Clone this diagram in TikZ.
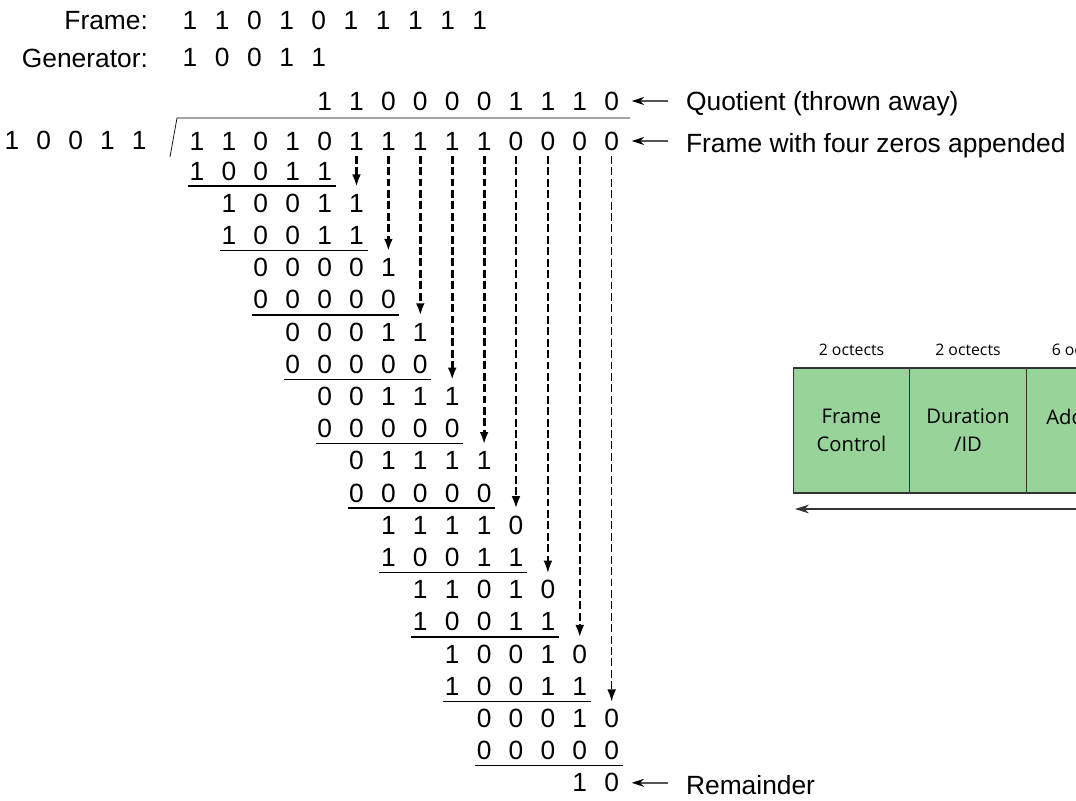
\documentclass[tikz,border=0pt]{standalone}
\usepackage{fontspec}
\setmainfont{Liberation Sans}
\newfontfamily\boxfont{Open Sans}
\usetikzlibrary{arrows.meta}
\usetikzlibrary{positioning}
\usetikzlibrary{calc}

\definecolor{fieldgreen}{HTML}{98D49A}
\definecolor{fieldline}{HTML}{333333}
\definecolor{pointergray}{HTML}{555555}

\tikzset{
  bit/.style={font=\fontsize{15}{18}\selectfont, inner sep=1pt},
  lbl/.style={font=\fontsize{15}{18}\selectfont, anchor=west, inner sep=1pt},
  bringdown/.style={-{Latex[length=7pt,width=5pt]}, dash pattern=on 4.5pt off 2pt,
    shorten <=2pt, shorten >=3pt},
  pointer/.style={-{Stealth[black,length=7pt,width=4.5pt]}, pointergray, line width=1pt,
    shorten <=9pt, shorten >=6pt},
  field/.style={draw=fieldline, fill=fieldgreen, line width=.7pt, minimum width=2.33cm,
    minimum height=2.5cm, outer sep=0pt, align=center,
    font=\boxfont\fontsize{11.5}{16}\selectfont},
  octets/.style={font=\boxfont\fontsize{9}{11}\selectfont, inner sep=2pt}
}

\begin{document}
\begin{tikzpicture}[x=.02cm, y=-.02cm]
  \useasboundingbox (0,0) rectangle (1076,801);
  \clip (0,0) rectangle (1076,801);

  % frame and generator
  \node[bit, anchor=east] at (150,21) (frm){Frame:};
  \node[bit, anchor=east] at (150,58) (gen){Generator:};
  \foreach \b [count=\c] in {1,1,0,1,0,1,1,1,1,1}
    \node[bit] at ({190+(\c-1)*32.2},20) (f\c){\b};
  \foreach \b [count=\c] in {1,0,0,1,1}
    \node[bit] at ({190+(\c-1)*32.2},57) (g\c){\b};

  % divisor, quotient, dividend
  \foreach \b [count=\c] in {1,0,0,1,1}
    \node[bit] at ({12+(\c-1)*31.8},140) (v\c){\b};
  \foreach \b [count=\c from 5] in {1,1,0,0,0,0,1,1,1,0}
    \node[bit] at ({197+(\c-1)*31.9},101) (q\c){\b};
  \foreach \b [count=\c] in {1,1,0,1,0,1,1,1,1,1,0,0,0,0}
    \node[bit] at ({197+(\c-1)*31.9},141) (d\c){\b};
  \draw (170,157) -- (177,118) -- (630,118);

  % the long division
  \foreach \r/\s/\bits in {1/1/{1,0,0,1,1}, 2/2/{1,0,0,1,1}, 3/2/{1,0,0,1,1},
      4/3/{0,0,0,0,1}, 5/3/{0,0,0,0,0}, 6/4/{0,0,0,1,1}, 7/4/{0,0,0,0,0},
      8/5/{0,0,1,1,1}, 9/5/{0,0,0,0,0}, 10/6/{0,1,1,1,1}, 11/6/{0,0,0,0,0},
      12/7/{1,1,1,1,0}, 13/7/{1,0,0,1,1}, 14/8/{1,1,0,1,0}, 15/8/{1,0,0,1,1},
      16/9/{1,0,0,1,0}, 17/9/{1,0,0,1,1}, 18/10/{0,0,0,1,0}, 19/10/{0,0,0,0,0},
      20/13/{1,0}} {
    \foreach \b [count=\k from 0] in \bits {
      \pgfmathtruncatemacro\col{\s+\k}
      \node[bit] at ({197+(\col-1)*31.9},{171+(\r-1)*32.2}) (r\r-\col){\b};
    }
  }
  \foreach \r/\s in {1/1,3/2,5/3,7/4,9/5,11/6,13/7,15/8,17/9,19/10} {
    \pgfmathtruncatemacro\e{\s+4}
    \draw[line width=.8pt] ($(r\r-\s)+(-9,15)$) -- ($(r\r-\e)+(11,15)$);
  }

  % digits brought down
  \foreach \c/\w in {6/1.8,7/1.8,8/1.8,9/1.8,10/1.6,11/1.3,12/0.9,13/1.3,14/0.9} {
    \pgfmathtruncatemacro\rr{2*(\c-5)}
    \draw[bringdown, line width=\w pt] (d\c) -- (r\rr-\c);
  }

  % labels
  \node[lbl] at (684,104) (qlab){Quotient (thrown away)};
  \node[lbl] at (684,146) (dlab){Frame with four zeros appended};
  \node[lbl] at (684,785) (rlab){Remainder};
  \draw[pointer] (qlab.west |- q14) -- (q14);
  \draw[pointer] (dlab.west |- d14) -- (d14);
  \draw[pointer] (rlab.west |- r20-14) -- (r20-14);

  % frame format
  \node[field] at (851.5,430.5) (fc){Frame\\Control};
  \node[field, right=0pt of fc] (dur){Duration\\/ID};
  \node[field, right=0pt of dur] (addr){Address\\1};
  \node[octets, above=5pt of fc] (fcoct){2 octects};
  \node[octets, above=5pt of dur] (duroct){2 octects};
  \node[octets, above=5pt of addr] (addroct){6 octects};
  \coordinate (lenl) at (795,509);
  \coordinate (lenr) at (1120,509);
  \draw[-{Stealth[length=8pt,width=5pt]}, fieldline, line width=.8pt] (lenr) -- (lenl);
\end{tikzpicture}
\end{document}
